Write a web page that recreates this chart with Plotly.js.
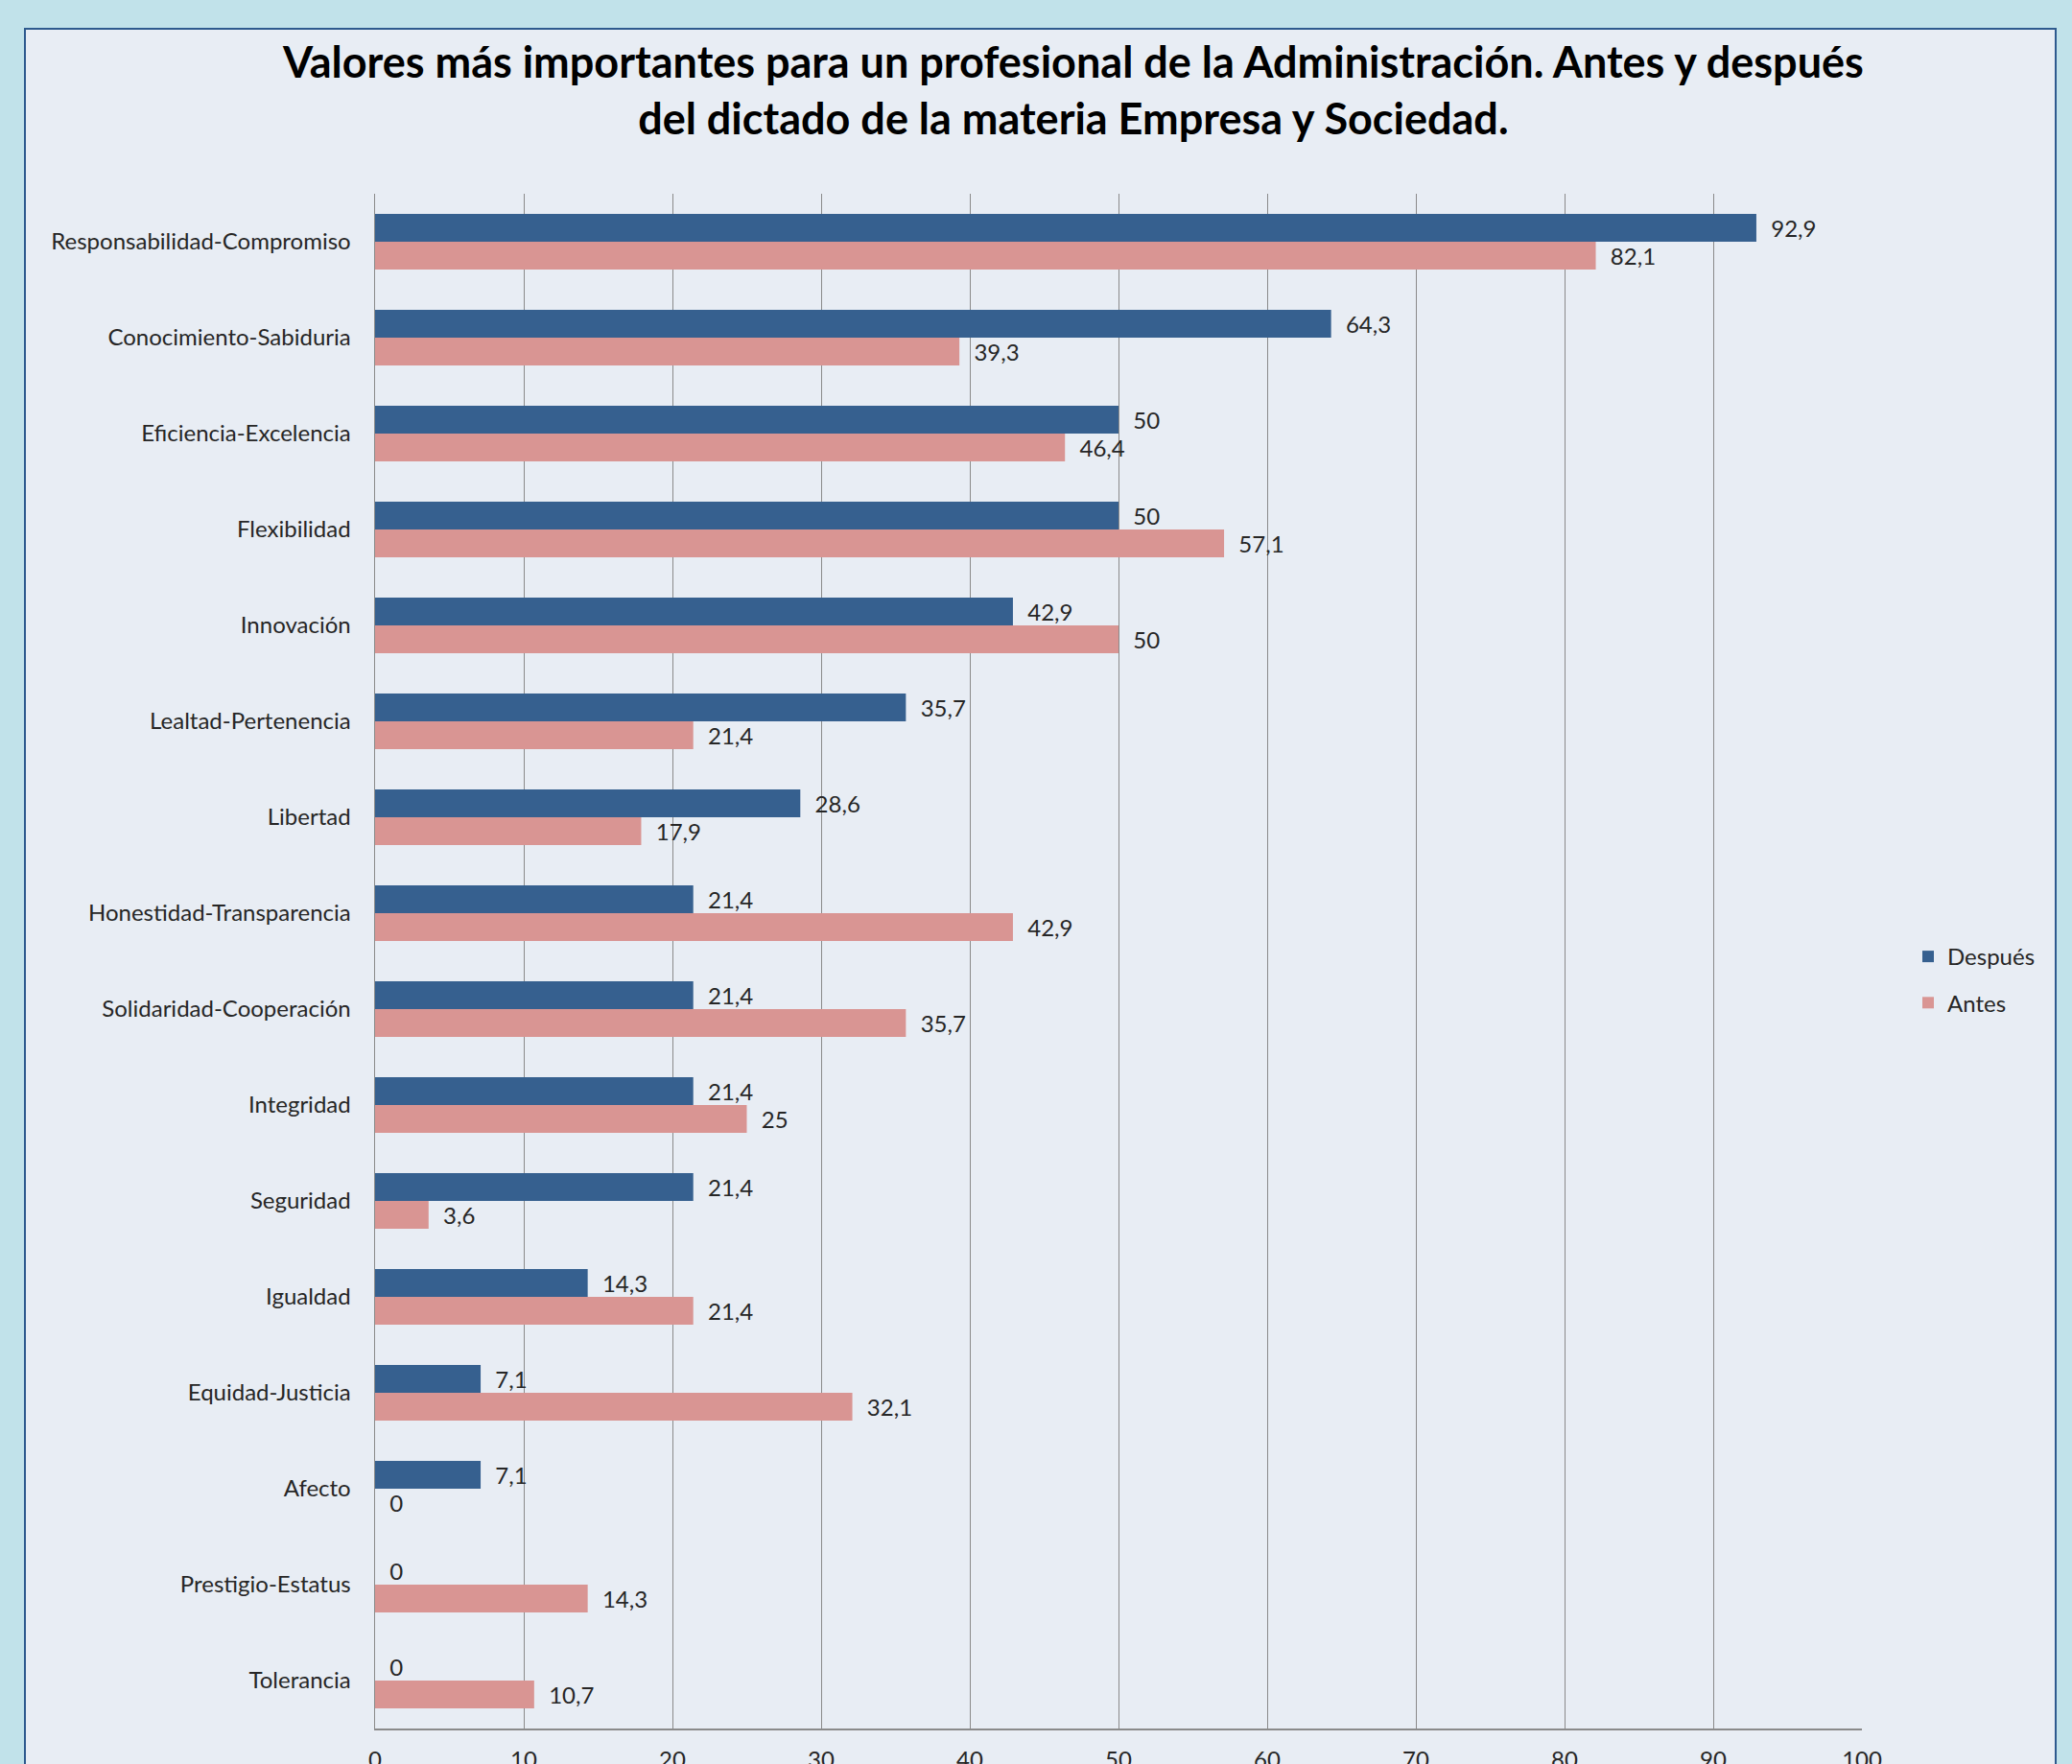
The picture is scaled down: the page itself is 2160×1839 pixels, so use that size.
<!DOCTYPE html>
<html>
<head>
<meta charset="utf-8">
<script src="https://cdn.plot.ly/plotly-3.0.1.min.js"></script>
<style>
  html, body { margin: 0; padding: 0; background: #c1e2ea; width: 2160px; height: 1839px; overflow: hidden; }
  #frame { position: absolute; left: 25px; top: 29px; width: 2115px; height: 1900px; background: #e8edf4; border: 2px solid #2e5a8e; }
  #chart { position: absolute; left: 0; top: 0; width: 2160px; height: 1839px; }
</style>
</head>
<body>
<div id="frame"></div>
<div id="chart"></div>
<script>
const categories = [
  "Responsabilidad-Compromiso",
  "Conocimiento-Sabiduria",
  "Eficiencia-Excelencia",
  "Flexibilidad",
  "Innovación",
  "Lealtad-Pertenencia",
  "Libertad",
  "Honestidad-Transparencia",
  "Solidaridad-Cooperación",
  "Integridad",
  "Seguridad",
  "Igualdad",
  "Equidad-Justicia",
  "Afecto",
  "Prestigio-Estatus",
  "Tolerancia"
];
const despues = [92.9, 64.3, 50, 50, 42.9, 35.7, 28.6, 21.4, 21.4, 21.4, 21.4, 14.3, 7.1, 7.1, 0, 0];
const antes   = [82.1, 39.3, 46.4, 57.1, 50, 21.4, 17.9, 42.9, 35.7, 25, 3.6, 21.4, 32.1, 0, 14.3, 10.7];
const xTicks = [0, 10, 20, 30, 40, 50, 60, 70, 80, 90, 100];

const fmt = v => "\u00A0\u00A0" + String(v).replace(".", ",");
const FONT = "Lato, 'Open Sans', sans-serif";

const traces = [
  {
    type: "bar", orientation: "h", name: "Después", legendgroup: "d",
    y: categories, x: despues,
    text: despues.map(fmt), textposition: "outside", cliponaxis: false,
    textfont: { family: FONT, size: 24, color: "#262626" },
    marker: { color: "#36608f" }, hoverinfo: "x+y"
  },
  {
    type: "bar", orientation: "h", name: "Antes", legendgroup: "a",
    y: categories, x: antes,
    text: antes.map(fmt), textposition: "outside", cliponaxis: false,
    textfont: { family: FONT, size: 24, color: "#262626" },
    marker: { color: "#d99593" }, hoverinfo: "x+y"
  }
];

const layout = {
  width: 2160, height: 1839,
  paper_bgcolor: "rgba(0,0,0,0)", plot_bgcolor: "rgba(0,0,0,0)",
  margin: { l: 391, r: 219, t: 202, b: 37, pad: 0 },
  title: {
    text: "Valores más importantes para un profesional de la Administración. Antes y después<br>del dictado de la materia Empresa y Sociedad.",
    font: { family: FONT, size: 45, color: "#000000", weight: "bold" },
    x: 0.518, xref: "container", xanchor: "center",
    y: 1 - 81 / 1839, yref: "container", yanchor: "top"
  },
  barmode: "group", bargap: 0.42, bargroupgap: 0,
  xaxis: {
    range: [0, 100], tickvals: xTicks, ticktext: xTicks.map(String),
    showgrid: true, gridcolor: "#8a8a8a", gridwidth: 1,
    showline: true, linecolor: "#8a8a8a", linewidth: 1.5,
    zeroline: false, ticks: "", ticklabelstandoff: 11,
    tickfont: { family: FONT, size: 24, color: "#262626" }, fixedrange: true
  },
  yaxis: {
    autorange: "reversed", type: "category",
    showgrid: false, showline: true, linecolor: "#8a8a8a", linewidth: 1.5,
    ticks: "", ticklabelstandoff: 19,
    tickfont: { family: FONT, size: 24, color: "#262626" }, fixedrange: true
  },
  showlegend: true,
  legend: {
    xref: "container", yref: "container",
    x: 1990 / 2160, xanchor: "left",
    y: 1 - 975 / 1839, yanchor: "top",
    bgcolor: "rgba(0,0,0,0)", borderwidth: 0,
    font: { family: FONT, size: 24, color: "#262626" },
    traceorder: "grouped", tracegroupgap: 14
  }
};

Plotly.newPlot("chart", traces, layout, { displayModeBar: false, staticPlot: true });
</script>
</body>
</html>
